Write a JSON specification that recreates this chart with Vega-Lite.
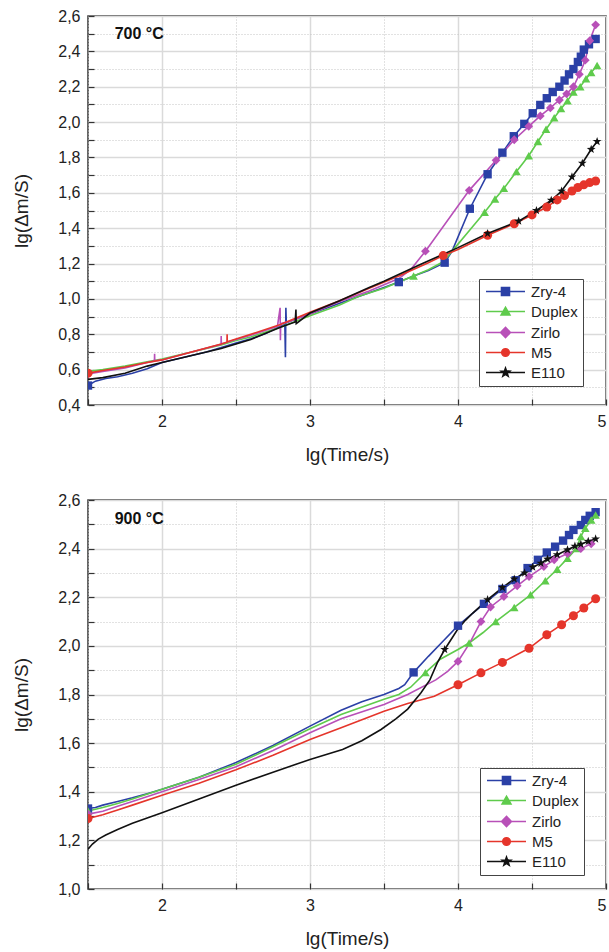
{
  "$schema": "https://vega.github.io/schema/vega-lite/v6.json",
  "padding": {"left": 12, "top": 7, "right": 2, "bottom": 5},
  "background": "white",
  "config": {
    "font": "Liberation Sans",
    "view": {"stroke": "#333", "strokeWidth": 1.5},
    "axis": {
      "domain": false,
      "tickColor": "#333",
      "tickSize": -6,
      "tickWidth": 1.2,
      "labelFontSize": 16,
      "labelColor": "#222",
      "titleFontSize": 19,
      "titleFontWeight": "normal",
      "titleColor": "#222"
    },
    "legend": {
      "title": null, "padding": 5, "strokeColor": "#444", "fillColor": "#ffffff",
      "labelFontSize": 15, "labelColor": "#222", "symbolSize": 81, "symbolStrokeWidth": 1.5, "symbolOffset": 14,
      "labelOffset": 18, "rowPadding": 4, "symbolOpacity": 1
    }
  },
  "datasets": {
    "d700": [
      {"a":"Zry-4","x":1.5,"y":0.51,"m":1},{"a":"Zry-4","x":1.55,"y":0.535},{"a":"Zry-4","x":1.62,"y":0.55},{"a":"Zry-4","x":1.7,"y":0.56},{"a":"Zry-4","x":1.8,"y":0.58},{"a":"Zry-4","x":1.9,"y":0.605},{"a":"Zry-4","x":2.0,"y":0.64},{"a":"Zry-4","x":2.1,"y":0.66},{"a":"Zry-4","x":2.2,"y":0.68},{"a":"Zry-4","x":2.3,"y":0.7},{"a":"Zry-4","x":2.4,"y":0.725},{"a":"Zry-4","x":2.5,"y":0.75},{"a":"Zry-4","x":2.6,"y":0.775},{"a":"Zry-4","x":2.7,"y":0.805},{"a":"Zry-4","x":2.8,"y":0.845},{"a":"Zry-4","x":2.83,"y":0.855},{"a":"Zry-4","x":2.834,"y":0.67},{"a":"Zry-4","x":2.837,"y":0.95},{"a":"Zry-4","x":2.84,"y":0.865},{"a":"Zry-4","x":2.9,"y":0.885},{"a":"Zry-4","x":3.0,"y":0.915},{"a":"Zry-4","x":3.1,"y":0.945},{"a":"Zry-4","x":3.2,"y":0.975},{"a":"Zry-4","x":3.3,"y":1.005},{"a":"Zry-4","x":3.4,"y":1.035},{"a":"Zry-4","x":3.5,"y":1.065},{"a":"Zry-4","x":3.6,"y":1.095,"m":1},{"a":"Zry-4","x":3.7,"y":1.13},{"a":"Zry-4","x":3.8,"y":1.16},{"a":"Zry-4","x":3.91,"y":1.205,"m":1},{"a":"Zry-4","x":3.96,"y":1.27},{"a":"Zry-4","x":4.08,"y":1.51,"m":1},{"a":"Zry-4","x":4.2,"y":1.705,"m":1},{"a":"Zry-4","x":4.3,"y":1.827,"m":1},{"a":"Zry-4","x":4.377,"y":1.92,"m":1},{"a":"Zry-4","x":4.448,"y":1.99,"m":1},{"a":"Zry-4","x":4.505,"y":2.05,"m":1},{"a":"Zry-4","x":4.556,"y":2.097,"m":1},{"a":"Zry-4","x":4.6,"y":2.135,"m":1},{"a":"Zry-4","x":4.64,"y":2.17,"m":1},{"a":"Zry-4","x":4.685,"y":2.2,"m":1},{"a":"Zry-4","x":4.72,"y":2.235,"m":1},{"a":"Zry-4","x":4.75,"y":2.27,"m":1},{"a":"Zry-4","x":4.78,"y":2.3,"m":1},{"a":"Zry-4","x":4.81,"y":2.34,"m":1},{"a":"Zry-4","x":4.83,"y":2.37,"m":1},{"a":"Zry-4","x":4.85,"y":2.41,"m":1},{"a":"Zry-4","x":4.885,"y":2.44,"m":1},{"a":"Zry-4","x":4.93,"y":2.47,"m":1},
      {"a":"Duplex","x":1.5,"y":0.59,"m":1},{"a":"Duplex","x":1.6,"y":0.6},{"a":"Duplex","x":1.75,"y":0.62},{"a":"Duplex","x":1.9,"y":0.645},{"a":"Duplex","x":2.0,"y":0.66},{"a":"Duplex","x":2.2,"y":0.7},{"a":"Duplex","x":2.4,"y":0.74},{"a":"Duplex","x":2.5,"y":0.765},{"a":"Duplex","x":2.6,"y":0.785},{"a":"Duplex","x":2.8,"y":0.84},{"a":"Duplex","x":3.0,"y":0.905},{"a":"Duplex","x":3.2,"y":0.965},{"a":"Duplex","x":3.33,"y":1.015},{"a":"Duplex","x":3.5,"y":1.06},{"a":"Duplex","x":3.6,"y":1.095},{"a":"Duplex","x":3.7,"y":1.13,"m":1},{"a":"Duplex","x":3.8,"y":1.165},{"a":"Duplex","x":3.9,"y":1.21},{"a":"Duplex","x":3.98,"y":1.29},{"a":"Duplex","x":4.08,"y":1.39},{"a":"Duplex","x":4.18,"y":1.49,"m":1},{"a":"Duplex","x":4.25,"y":1.565,"m":1},{"a":"Duplex","x":4.31,"y":1.625,"m":1},{"a":"Duplex","x":4.395,"y":1.72,"m":1},{"a":"Duplex","x":4.478,"y":1.81,"m":1},{"a":"Duplex","x":4.54,"y":1.89,"m":1},{"a":"Duplex","x":4.595,"y":1.96,"m":1},{"a":"Duplex","x":4.65,"y":2.025,"m":1},{"a":"Duplex","x":4.696,"y":2.076,"m":1},{"a":"Duplex","x":4.74,"y":2.12,"m":1},{"a":"Duplex","x":4.78,"y":2.17,"m":1},{"a":"Duplex","x":4.826,"y":2.2,"m":1},{"a":"Duplex","x":4.865,"y":2.245,"m":1},{"a":"Duplex","x":4.9,"y":2.28,"m":1},{"a":"Duplex","x":4.94,"y":2.32,"m":1},
      {"a":"Zirlo","x":1.5,"y":0.575,"m":1},{"a":"Zirlo","x":1.6,"y":0.59},{"a":"Zirlo","x":1.75,"y":0.61},{"a":"Zirlo","x":1.9,"y":0.64},{"a":"Zirlo","x":1.949,"y":0.648},{"a":"Zirlo","x":1.95,"y":0.69},{"a":"Zirlo","x":1.951,"y":0.65},{"a":"Zirlo","x":2.0,"y":0.655},{"a":"Zirlo","x":2.2,"y":0.7},{"a":"Zirlo","x":2.399,"y":0.743},{"a":"Zirlo","x":2.4,"y":0.79},{"a":"Zirlo","x":2.401,"y":0.745},{"a":"Zirlo","x":2.5,"y":0.77},{"a":"Zirlo","x":2.6,"y":0.795},{"a":"Zirlo","x":2.78,"y":0.845},{"a":"Zirlo","x":2.798,"y":0.95},{"a":"Zirlo","x":2.8,"y":0.766},{"a":"Zirlo","x":2.802,"y":0.86},{"a":"Zirlo","x":2.85,"y":0.87},{"a":"Zirlo","x":3.0,"y":0.915},{"a":"Zirlo","x":3.2,"y":0.985},{"a":"Zirlo","x":3.4,"y":1.045},{"a":"Zirlo","x":3.6,"y":1.115},{"a":"Zirlo","x":3.68,"y":1.165},{"a":"Zirlo","x":3.78,"y":1.27,"m":1},{"a":"Zirlo","x":4.076,"y":1.614,"m":1},{"a":"Zirlo","x":4.257,"y":1.784,"m":1},{"a":"Zirlo","x":4.38,"y":1.9,"m":1},{"a":"Zirlo","x":4.478,"y":1.976,"m":1},{"a":"Zirlo","x":4.556,"y":2.035,"m":1},{"a":"Zirlo","x":4.624,"y":2.08,"m":1},{"a":"Zirlo","x":4.685,"y":2.125,"m":1},{"a":"Zirlo","x":4.734,"y":2.16,"m":1},{"a":"Zirlo","x":4.78,"y":2.2,"m":1},{"a":"Zirlo","x":4.82,"y":2.27,"m":1},{"a":"Zirlo","x":4.86,"y":2.35,"m":1},{"a":"Zirlo","x":4.89,"y":2.46,"m":1},{"a":"Zirlo","x":4.93,"y":2.55,"m":1},
      {"a":"M5","x":1.5,"y":0.58,"m":1},{"a":"M5","x":1.6,"y":0.595},{"a":"M5","x":1.75,"y":0.615},{"a":"M5","x":1.9,"y":0.64},{"a":"M5","x":2.0,"y":0.655},{"a":"M5","x":2.2,"y":0.7},{"a":"M5","x":2.4,"y":0.745},{"a":"M5","x":2.439,"y":0.755},{"a":"M5","x":2.44,"y":0.8},{"a":"M5","x":2.441,"y":0.758},{"a":"M5","x":2.5,"y":0.773},{"a":"M5","x":2.6,"y":0.8},{"a":"M5","x":2.8,"y":0.855},{"a":"M5","x":3.0,"y":0.925},{"a":"M5","x":3.2,"y":0.99},{"a":"M5","x":3.4,"y":1.06},{"a":"M5","x":3.6,"y":1.13},{"a":"M5","x":3.8,"y":1.205},{"a":"M5","x":3.9,"y":1.245,"m":1},{"a":"M5","x":4.0,"y":1.28},{"a":"M5","x":4.2,"y":1.36,"m":1},{"a":"M5","x":4.38,"y":1.425,"m":1},{"a":"M5","x":4.5,"y":1.475,"m":1},{"a":"M5","x":4.6,"y":1.52,"m":1},{"a":"M5","x":4.67,"y":1.56,"m":1},{"a":"M5","x":4.72,"y":1.585,"m":1},{"a":"M5","x":4.77,"y":1.61,"m":1},{"a":"M5","x":4.81,"y":1.63,"m":1},{"a":"M5","x":4.85,"y":1.645,"m":1},{"a":"M5","x":4.89,"y":1.658,"m":1},{"a":"M5","x":4.93,"y":1.667,"m":1},
      {"a":"E110","x":1.5,"y":0.545},{"a":"E110","x":1.6,"y":0.555},{"a":"E110","x":1.75,"y":0.58},{"a":"E110","x":1.9,"y":0.62},{"a":"E110","x":2.0,"y":0.64},{"a":"E110","x":2.2,"y":0.68},{"a":"E110","x":2.4,"y":0.72},{"a":"E110","x":2.5,"y":0.745},{"a":"E110","x":2.6,"y":0.77},{"a":"E110","x":2.8,"y":0.84},{"a":"E110","x":2.9,"y":0.87},{"a":"E110","x":2.905,"y":0.94},{"a":"E110","x":2.907,"y":0.86},{"a":"E110","x":3.0,"y":0.92},{"a":"E110","x":3.2,"y":0.99},{"a":"E110","x":3.4,"y":1.065},{"a":"E110","x":3.5,"y":1.1},{"a":"E110","x":3.76,"y":1.2},{"a":"E110","x":4.0,"y":1.29},{"a":"E110","x":4.2,"y":1.37,"m":1},{"a":"E110","x":4.41,"y":1.44,"m":1},{"a":"E110","x":4.53,"y":1.5,"m":1},{"a":"E110","x":4.63,"y":1.558,"m":1},{"a":"E110","x":4.7,"y":1.61,"m":1},{"a":"E110","x":4.77,"y":1.69,"m":1},{"a":"E110","x":4.84,"y":1.767,"m":1},{"a":"E110","x":4.9,"y":1.846,"m":1},{"a":"E110","x":4.94,"y":1.89,"m":1}
    ],
    "d900": [
      {"a":"Zry-4","x":1.5,"y":1.331,"m":1},{"a":"Zry-4","x":1.55,"y":1.335},{"a":"Zry-4","x":1.6,"y":1.345},{"a":"Zry-4","x":1.7,"y":1.36},{"a":"Zry-4","x":1.8,"y":1.375},{"a":"Zry-4","x":1.9,"y":1.392},{"a":"Zry-4","x":2.0,"y":1.41},{"a":"Zry-4","x":2.25,"y":1.46},{"a":"Zry-4","x":2.5,"y":1.52},{"a":"Zry-4","x":2.75,"y":1.59},{"a":"Zry-4","x":3.0,"y":1.67},{"a":"Zry-4","x":3.21,"y":1.735},{"a":"Zry-4","x":3.35,"y":1.77},{"a":"Zry-4","x":3.5,"y":1.8},{"a":"Zry-4","x":3.6,"y":1.825},{"a":"Zry-4","x":3.64,"y":1.84},{"a":"Zry-4","x":3.7,"y":1.891,"m":1},{"a":"Zry-4","x":3.8,"y":1.957},{"a":"Zry-4","x":3.9,"y":2.02},{"a":"Zry-4","x":4.0,"y":2.083,"m":1},{"a":"Zry-4","x":4.175,"y":2.173,"m":1},{"a":"Zry-4","x":4.3,"y":2.234,"m":1},{"a":"Zry-4","x":4.39,"y":2.27,"m":1},{"a":"Zry-4","x":4.47,"y":2.32,"m":1},{"a":"Zry-4","x":4.54,"y":2.354,"m":1},{"a":"Zry-4","x":4.6,"y":2.384,"m":1},{"a":"Zry-4","x":4.656,"y":2.408,"m":1},{"a":"Zry-4","x":4.71,"y":2.433,"m":1},{"a":"Zry-4","x":4.75,"y":2.456,"m":1},{"a":"Zry-4","x":4.78,"y":2.477,"m":1},{"a":"Zry-4","x":4.83,"y":2.497,"m":1},{"a":"Zry-4","x":4.86,"y":2.518,"m":1},{"a":"Zry-4","x":4.89,"y":2.535,"m":1},{"a":"Zry-4","x":4.93,"y":2.55,"m":1},
      {"a":"Duplex","x":1.5,"y":1.321,"m":1},{"a":"Duplex","x":1.6,"y":1.335},{"a":"Duplex","x":1.7,"y":1.352},{"a":"Duplex","x":1.8,"y":1.37},{"a":"Duplex","x":2.0,"y":1.41},{"a":"Duplex","x":2.25,"y":1.46},{"a":"Duplex","x":2.5,"y":1.513},{"a":"Duplex","x":2.75,"y":1.585},{"a":"Duplex","x":3.0,"y":1.659},{"a":"Duplex","x":3.21,"y":1.718},{"a":"Duplex","x":3.5,"y":1.78},{"a":"Duplex","x":3.6,"y":1.8},{"a":"Duplex","x":3.68,"y":1.83},{"a":"Duplex","x":3.78,"y":1.89,"m":1},{"a":"Duplex","x":3.88,"y":1.945},{"a":"Duplex","x":4.0,"y":1.985},{"a":"Duplex","x":4.075,"y":2.012,"m":1},{"a":"Duplex","x":4.17,"y":2.055},{"a":"Duplex","x":4.255,"y":2.1,"m":1},{"a":"Duplex","x":4.38,"y":2.158,"m":1},{"a":"Duplex","x":4.49,"y":2.21,"m":1},{"a":"Duplex","x":4.59,"y":2.268,"m":1},{"a":"Duplex","x":4.67,"y":2.315,"m":1},{"a":"Duplex","x":4.74,"y":2.36,"m":1},{"a":"Duplex","x":4.8,"y":2.4,"m":1},{"a":"Duplex","x":4.83,"y":2.45,"m":1},{"a":"Duplex","x":4.86,"y":2.484,"m":1},{"a":"Duplex","x":4.9,"y":2.518,"m":1},{"a":"Duplex","x":4.93,"y":2.538,"m":1},
      {"a":"Zirlo","x":1.5,"y":1.308,"m":1},{"a":"Zirlo","x":1.6,"y":1.32},{"a":"Zirlo","x":1.7,"y":1.34},{"a":"Zirlo","x":1.8,"y":1.36},{"a":"Zirlo","x":2.0,"y":1.4},{"a":"Zirlo","x":2.25,"y":1.45},{"a":"Zirlo","x":2.5,"y":1.503},{"a":"Zirlo","x":2.75,"y":1.57},{"a":"Zirlo","x":3.0,"y":1.643},{"a":"Zirlo","x":3.21,"y":1.7},{"a":"Zirlo","x":3.5,"y":1.759},{"a":"Zirlo","x":3.66,"y":1.8},{"a":"Zirlo","x":3.85,"y":1.86},{"a":"Zirlo","x":3.93,"y":1.895},{"a":"Zirlo","x":4.0,"y":1.936,"m":1},{"a":"Zirlo","x":4.08,"y":2.012},{"a":"Zirlo","x":4.155,"y":2.1,"m":1},{"a":"Zirlo","x":4.22,"y":2.16,"m":1},{"a":"Zirlo","x":4.31,"y":2.203,"m":1},{"a":"Zirlo","x":4.4,"y":2.247,"m":1},{"a":"Zirlo","x":4.48,"y":2.285,"m":1},{"a":"Zirlo","x":4.58,"y":2.326,"m":1},{"a":"Zirlo","x":4.65,"y":2.354,"m":1},{"a":"Zirlo","x":4.74,"y":2.38,"m":1},{"a":"Zirlo","x":4.83,"y":2.4,"m":1},{"a":"Zirlo","x":4.9,"y":2.42,"m":1},
      {"a":"M5","x":1.5,"y":1.29,"m":1},{"a":"M5","x":1.6,"y":1.305},{"a":"M5","x":1.7,"y":1.325},{"a":"M5","x":1.8,"y":1.345},{"a":"M5","x":2.0,"y":1.386},{"a":"M5","x":2.25,"y":1.435},{"a":"M5","x":2.5,"y":1.49},{"a":"M5","x":2.75,"y":1.55},{"a":"M5","x":3.0,"y":1.615},{"a":"M5","x":3.21,"y":1.663},{"a":"M5","x":3.5,"y":1.731},{"a":"M5","x":3.66,"y":1.763},{"a":"M5","x":3.84,"y":1.793},{"a":"M5","x":4.0,"y":1.84,"m":1},{"a":"M5","x":4.155,"y":1.889,"m":1},{"a":"M5","x":4.3,"y":1.932,"m":1},{"a":"M5","x":4.48,"y":1.99,"m":1},{"a":"M5","x":4.6,"y":2.046,"m":1},{"a":"M5","x":4.7,"y":2.087,"m":1},{"a":"M5","x":4.78,"y":2.124,"m":1},{"a":"M5","x":4.85,"y":2.156,"m":1},{"a":"M5","x":4.93,"y":2.194,"m":1},
      {"a":"E110","x":1.5,"y":1.164},{"a":"E110","x":1.53,"y":1.185},{"a":"E110","x":1.57,"y":1.205},{"a":"E110","x":1.62,"y":1.222},{"a":"E110","x":1.7,"y":1.245},{"a":"E110","x":1.8,"y":1.27},{"a":"E110","x":1.9,"y":1.292},{"a":"E110","x":2.0,"y":1.314},{"a":"E110","x":2.25,"y":1.37},{"a":"E110","x":2.5,"y":1.427},{"a":"E110","x":2.75,"y":1.48},{"a":"E110","x":3.0,"y":1.533},{"a":"E110","x":3.22,"y":1.574},{"a":"E110","x":3.35,"y":1.61},{"a":"E110","x":3.48,"y":1.656},{"a":"E110","x":3.58,"y":1.7},{"a":"E110","x":3.66,"y":1.74},{"a":"E110","x":3.75,"y":1.807},{"a":"E110","x":3.81,"y":1.86},{"a":"E110","x":3.86,"y":1.93},{"a":"E110","x":3.91,"y":1.985,"m":1},{"a":"E110","x":4.0,"y":2.07},{"a":"E110","x":4.05,"y":2.105},{"a":"E110","x":4.1,"y":2.135},{"a":"E110","x":4.2,"y":2.19,"m":1},{"a":"E110","x":4.3,"y":2.24,"m":1},{"a":"E110","x":4.38,"y":2.275,"m":1},{"a":"E110","x":4.45,"y":2.3,"m":1},{"a":"E110","x":4.505,"y":2.324,"m":1},{"a":"E110","x":4.56,"y":2.34,"m":1},{"a":"E110","x":4.605,"y":2.357,"m":1},{"a":"E110","x":4.67,"y":2.375,"m":1},{"a":"E110","x":4.74,"y":2.395,"m":1},{"a":"E110","x":4.79,"y":2.41,"m":1},{"a":"E110","x":4.83,"y":2.418,"m":1},{"a":"E110","x":4.88,"y":2.43,"m":1},{"a":"E110","x":4.93,"y":2.44,"m":1}
    ]
  },
  "spacing": 26,
  "vconcat": [
    {
      "width": 518,
      "height": 389,
      "data": {"name": "d700"},
      "encoding": {
        "x": {"field": "x", "type": "quantitative", "scale": {"domain": [1.5, 5], "nice": false, "zero": false},
          "axis": {"title": "lg(Time/s)", "values": [1.5, 2, 2.5, 3, 3.5, 4, 4.5, 5], "labelPadding": 14, "titlePadding": 16,
            "labelExpr": "datum.value % 1 == 0 ? format(datum.value, 'd') : ''",
            "gridColor": {"condition": {"test": "datum.value % 1 != 0", "value": "#c4c4c4"}, "value": "#dadada"},
            "gridDash": {"condition": {"test": "datum.value % 1 != 0", "value": [1, 2]}, "value": []},
            "gridWidth": {"condition": {"test": "datum.value % 1 != 0", "value": 1}, "value": 1.5}}},
        "y": {"field": "y", "type": "quantitative", "scale": {"domain": [0.4, 2.6], "nice": false, "zero": false},
          "axis": {"title": "lg(Δm/S)", "values": [0.4,0.5,0.6,0.7,0.8,0.9,1.0,1.1,1.2,1.3,1.4,1.5,1.6,1.7,1.8,1.9,2.0,2.1,2.2,2.3,2.4,2.5,2.6], "labelPadding": 14, "titlePadding": 26,
            "labelExpr": "round(datum.value*10) % 2 == 1 ? '' : replace(format(datum.value, '.1f'), '.', ',')",
            "gridColor": {"condition": {"test": "round(datum.value*10) % 2 == 1", "value": "#c4c4c4"}, "value": "#dadada"},
            "gridDash": {"condition": {"test": "round(datum.value*10) % 2 == 1", "value": [1, 2]}, "value": []},
            "gridWidth": {"condition": {"test": "round(datum.value*10) % 2 == 1", "value": 1}, "value": 1.5}}}
      },
      "layer": [
        {"mark": {"type": "line", "strokeWidth": 1.6, "clip": true},
         "encoding": {"color": {"field": "a", "type": "nominal", "scale": {"domain": ["Zry-4","Duplex","Zirlo","M5","E110"], "range": ["#2b40a6","#5fcb4c","#b850b8","#e5352b","#111111"]}, "legend": null}}},
        {"transform": [{"filter": "datum.m == 1"}],
         "mark": {"type": "point", "filled": true, "opacity": 1, "clip": true},
         "encoding": {
           "color": {"field": "a", "type": "nominal", "scale": {"domain": ["Zry-4","Duplex","Zirlo","M5","E110"], "range": ["#2b40a6","#5fcb4c","#b850b8","#e5352b","#111111"]}, "legend": null},
           "shape": {"field": "a", "type": "nominal", "scale": {"domain": ["Zry-4","Duplex","Zirlo","M5","E110"], "range": ["square","triangle-up","diamond","circle","M0,-1L0.235,-0.324L0.951,-0.309L0.38,0.124L0.588,0.809L0,0.4L-0.588,0.809L-0.38,0.124L-0.951,-0.309L-0.235,-0.324Z"]}, "legend": null},
           "size": {"field": "a", "type": "nominal", "scale": {"domain": ["Zry-4","Duplex","Zirlo","M5","E110"], "range": [70, 85, 105, 60, 81]}, "legend": null}}},
        {"transform": [{"filter": "datum.m == 1"}],
         "mark": {"type": "point", "filled": false, "opacity": 0, "strokeWidth": 1.5},
         "encoding": {
           "color": {"field": "a", "type": "nominal", "scale": {"domain": ["Zry-4","Duplex","Zirlo","M5","E110"], "range": ["#2b40a6","#5fcb4c","#b850b8","#e5352b","#111111"]}, "legend": {"orient": "none", "legendX": 391, "legendY": 263}},
           "fill": {"field": "a", "type": "nominal", "scale": {"domain": ["Zry-4","Duplex","Zirlo","M5","E110"], "range": ["#2b40a6","#5fcb4c","#b850b8","#e5352b","#111111"]}, "legend": {"orient": "none", "legendX": 391, "legendY": 263}},
           "shape": {"field": "a", "type": "nominal", "scale": {"domain": ["Zry-4","Duplex","Zirlo","M5","E110"], "range": ["M-4.33,0H4.33M-0.9,-0.9H0.9V0.9H-0.9Z","M-4.33,0H4.33M-1,0.8L0,-0.95L1,0.8Z","M-4.33,0H4.33M0,-1.15L1.1,0L0,1.15L-1.1,0Z","M-4.33,0H4.33M0.85,0A0.85,0.85,0,1,1,-0.85,0A0.85,0.85,0,1,1,0.85,0Z","M-4.33,0H4.33M0,-1L0.235,-0.324L0.951,-0.309L0.38,0.124L0.588,0.809L0,0.4L-0.588,0.809L-0.38,0.124L-0.951,-0.309L-0.235,-0.324Z"]}, "legend": {"orient": "none", "legendX": 391, "legendY": 263}}}},
        {"data": {"values": [{"label": "700 °C", "x": 1.68, "y": 2.5}]},
         "mark": {"type": "text", "align": "left", "baseline": "middle", "fontWeight": "bold", "fontSize": 16, "color": "#111"},
         "encoding": {"text": {"field": "label"}}}
      ],
      "resolve": {"scale": {"color": "independent", "shape": "independent", "fill": "independent", "size": "independent"}}
    },
    {
      "width": 518,
      "height": 389,
      "data": {"name": "d900"},
      "encoding": {
        "x": {"field": "x", "type": "quantitative", "scale": {"domain": [1.5, 5], "nice": false, "zero": false},
          "axis": {"title": "lg(Time/s)", "values": [1.5, 2, 2.5, 3, 3.5, 4, 4.5, 5], "labelPadding": 14, "titlePadding": 16,
            "labelExpr": "datum.value % 1 == 0 ? format(datum.value, 'd') : ''",
            "gridColor": {"condition": {"test": "datum.value % 1 != 0", "value": "#c4c4c4"}, "value": "#dadada"},
            "gridDash": {"condition": {"test": "datum.value % 1 != 0", "value": [1, 2]}, "value": []},
            "gridWidth": {"condition": {"test": "datum.value % 1 != 0", "value": 1}, "value": 1.5}}},
        "y": {"field": "y", "type": "quantitative", "scale": {"domain": [1.0, 2.6], "nice": false, "zero": false},
          "axis": {"title": "lg(Δm/S)", "values": [1.0,1.1,1.2,1.3,1.4,1.5,1.6,1.7,1.8,1.9,2.0,2.1,2.2,2.3,2.4,2.5,2.6], "labelPadding": 14, "titlePadding": 26,
            "labelExpr": "round(datum.value*10) % 2 == 1 ? '' : replace(format(datum.value, '.1f'), '.', ',')",
            "gridColor": {"condition": {"test": "round(datum.value*10) % 2 == 1", "value": "#c4c4c4"}, "value": "#dadada"},
            "gridDash": {"condition": {"test": "round(datum.value*10) % 2 == 1", "value": [1, 2]}, "value": []},
            "gridWidth": {"condition": {"test": "round(datum.value*10) % 2 == 1", "value": 1}, "value": 1.5}}}
      },
      "layer": [
        {"mark": {"type": "line", "strokeWidth": 1.6, "clip": true},
         "encoding": {"color": {"field": "a", "type": "nominal", "scale": {"domain": ["Zry-4","Duplex","Zirlo","M5","E110"], "range": ["#2b40a6","#5fcb4c","#b850b8","#e5352b","#111111"]}, "legend": null}}},
        {"transform": [{"filter": "datum.m == 1"}],
         "mark": {"type": "point", "filled": true, "opacity": 1, "clip": true},
         "encoding": {
           "color": {"field": "a", "type": "nominal", "scale": {"domain": ["Zry-4","Duplex","Zirlo","M5","E110"], "range": ["#2b40a6","#5fcb4c","#b850b8","#e5352b","#111111"]}, "legend": null},
           "shape": {"field": "a", "type": "nominal", "scale": {"domain": ["Zry-4","Duplex","Zirlo","M5","E110"], "range": ["square","triangle-up","diamond","circle","M0,-1L0.235,-0.324L0.951,-0.309L0.38,0.124L0.588,0.809L0,0.4L-0.588,0.809L-0.38,0.124L-0.951,-0.309L-0.235,-0.324Z"]}, "legend": null},
           "size": {"field": "a", "type": "nominal", "scale": {"domain": ["Zry-4","Duplex","Zirlo","M5","E110"], "range": [70, 85, 105, 60, 81]}, "legend": null}}},
        {"transform": [{"filter": "datum.m == 1"}],
         "mark": {"type": "point", "filled": false, "opacity": 0, "strokeWidth": 1.5},
         "encoding": {
           "color": {"field": "a", "type": "nominal", "scale": {"domain": ["Zry-4","Duplex","Zirlo","M5","E110"], "range": ["#2b40a6","#5fcb4c","#b850b8","#e5352b","#111111"]}, "legend": {"orient": "none", "legendX": 392, "legendY": 268}},
           "fill": {"field": "a", "type": "nominal", "scale": {"domain": ["Zry-4","Duplex","Zirlo","M5","E110"], "range": ["#2b40a6","#5fcb4c","#b850b8","#e5352b","#111111"]}, "legend": {"orient": "none", "legendX": 392, "legendY": 268}},
           "shape": {"field": "a", "type": "nominal", "scale": {"domain": ["Zry-4","Duplex","Zirlo","M5","E110"], "range": ["M-4.33,0H4.33M-0.9,-0.9H0.9V0.9H-0.9Z","M-4.33,0H4.33M-1,0.8L0,-0.95L1,0.8Z","M-4.33,0H4.33M0,-1.15L1.1,0L0,1.15L-1.1,0Z","M-4.33,0H4.33M0.85,0A0.85,0.85,0,1,1,-0.85,0A0.85,0.85,0,1,1,0.85,0Z","M-4.33,0H4.33M0,-1L0.235,-0.324L0.951,-0.309L0.38,0.124L0.588,0.809L0,0.4L-0.588,0.809L-0.38,0.124L-0.951,-0.309L-0.235,-0.324Z"]}, "legend": {"orient": "none", "legendX": 392, "legendY": 268}}}},
        {"data": {"values": [{"label": "900 °C", "x": 1.68, "y": 2.52}]},
         "mark": {"type": "text", "align": "left", "baseline": "middle", "fontWeight": "bold", "fontSize": 16, "color": "#111"},
         "encoding": {"text": {"field": "label"}}}
      ],
      "resolve": {"scale": {"color": "independent", "shape": "independent", "fill": "independent", "size": "independent"}}
    }
  ]
}
